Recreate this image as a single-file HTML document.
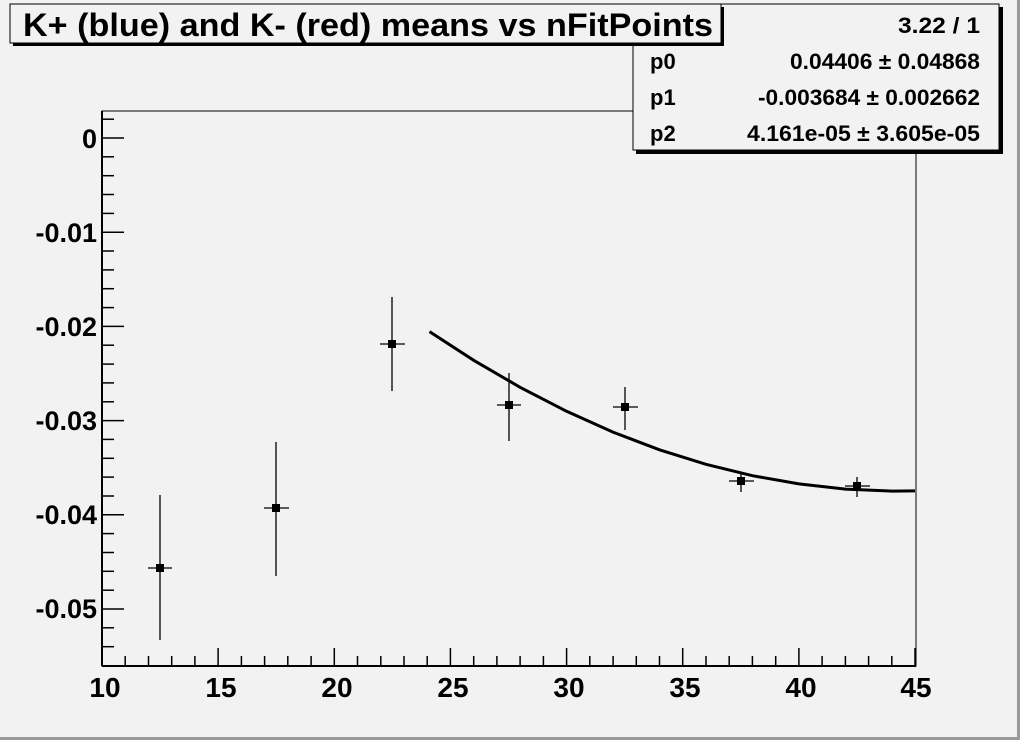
<!DOCTYPE html>
<html><head><style>
body{margin:0;background:#f2f2f2;}
svg{display:block;font-family:"Liberation Sans",sans-serif;font-weight:bold;}
</style></head><body>
<svg width="1020" height="740" viewBox="0 0 1020 740">
<rect width="1020" height="740" fill="#f2f2f2"/>
<rect x="0" y="737" width="1020" height="3" fill="#9a9a9a"/>
<rect x="1017" y="0" width="3" height="740" fill="#9a9a9a"/>
<rect x="102" y="111" width="814" height="555" fill="none" stroke="#000" stroke-width="1"/>
<g stroke="#000" stroke-width="2">
<line x1="102" y1="666" x2="916" y2="666"/>
<line x1="102" y1="111" x2="102" y2="666"/>
</g>
<g stroke="#000" stroke-width="1.5">
<line x1="102" y1="666" x2="102" y2="648"/>
<line x1="125.2" y1="666" x2="125.2" y2="656"/>
<line x1="148.5" y1="666" x2="148.5" y2="656"/>
<line x1="171.7" y1="666" x2="171.7" y2="656"/>
<line x1="194.9" y1="666" x2="194.9" y2="656"/>
<line x1="218.1" y1="666" x2="218.1" y2="648"/>
<line x1="241.4" y1="666" x2="241.4" y2="656"/>
<line x1="264.6" y1="666" x2="264.6" y2="656"/>
<line x1="287.8" y1="666" x2="287.8" y2="656"/>
<line x1="311.1" y1="666" x2="311.1" y2="656"/>
<line x1="334.3" y1="666" x2="334.3" y2="648"/>
<line x1="357.5" y1="666" x2="357.5" y2="656"/>
<line x1="380.8" y1="666" x2="380.8" y2="656"/>
<line x1="404" y1="666" x2="404" y2="656"/>
<line x1="427.2" y1="666" x2="427.2" y2="656"/>
<line x1="450.4" y1="666" x2="450.4" y2="648"/>
<line x1="473.7" y1="666" x2="473.7" y2="656"/>
<line x1="496.9" y1="666" x2="496.9" y2="656"/>
<line x1="520.1" y1="666" x2="520.1" y2="656"/>
<line x1="543.4" y1="666" x2="543.4" y2="656"/>
<line x1="566.6" y1="666" x2="566.6" y2="648"/>
<line x1="589.8" y1="666" x2="589.8" y2="656"/>
<line x1="613.1" y1="666" x2="613.1" y2="656"/>
<line x1="636.3" y1="666" x2="636.3" y2="656"/>
<line x1="659.5" y1="666" x2="659.5" y2="656"/>
<line x1="682.7" y1="666" x2="682.7" y2="648"/>
<line x1="706" y1="666" x2="706" y2="656"/>
<line x1="729.2" y1="666" x2="729.2" y2="656"/>
<line x1="752.4" y1="666" x2="752.4" y2="656"/>
<line x1="775.7" y1="666" x2="775.7" y2="656"/>
<line x1="798.9" y1="666" x2="798.9" y2="648"/>
<line x1="822.1" y1="666" x2="822.1" y2="656"/>
<line x1="845.4" y1="666" x2="845.4" y2="656"/>
<line x1="868.6" y1="666" x2="868.6" y2="656"/>
<line x1="891.8" y1="666" x2="891.8" y2="656"/>
<line x1="915" y1="666" x2="915" y2="648"/>
</g>
<g stroke="#000" stroke-width="1.5">
<line x1="102" y1="119.2" x2="114" y2="119.2"/>
<line x1="102" y1="138" x2="124" y2="138"/>
<line x1="102" y1="156.8" x2="114" y2="156.8"/>
<line x1="102" y1="175.7" x2="114" y2="175.7"/>
<line x1="102" y1="194.5" x2="114" y2="194.5"/>
<line x1="102" y1="213.4" x2="114" y2="213.4"/>
<line x1="102" y1="232.2" x2="124" y2="232.2"/>
<line x1="102" y1="251" x2="114" y2="251"/>
<line x1="102" y1="269.9" x2="114" y2="269.9"/>
<line x1="102" y1="288.7" x2="114" y2="288.7"/>
<line x1="102" y1="307.6" x2="114" y2="307.6"/>
<line x1="102" y1="326.4" x2="124" y2="326.4"/>
<line x1="102" y1="345.2" x2="114" y2="345.2"/>
<line x1="102" y1="364.1" x2="114" y2="364.1"/>
<line x1="102" y1="382.9" x2="114" y2="382.9"/>
<line x1="102" y1="401.8" x2="114" y2="401.8"/>
<line x1="102" y1="420.6" x2="124" y2="420.6"/>
<line x1="102" y1="439.4" x2="114" y2="439.4"/>
<line x1="102" y1="458.3" x2="114" y2="458.3"/>
<line x1="102" y1="477.1" x2="114" y2="477.1"/>
<line x1="102" y1="496" x2="114" y2="496"/>
<line x1="102" y1="514.8" x2="124" y2="514.8"/>
<line x1="102" y1="533.6" x2="114" y2="533.6"/>
<line x1="102" y1="552.5" x2="114" y2="552.5"/>
<line x1="102" y1="571.3" x2="114" y2="571.3"/>
<line x1="102" y1="590.2" x2="114" y2="590.2"/>
<line x1="102" y1="609" x2="124" y2="609"/>
<line x1="102" y1="627.8" x2="114" y2="627.8"/>
<line x1="102" y1="646.7" x2="114" y2="646.7"/>
</g>
<g font-size="27" text-anchor="end">
<text x="97" y="148">0</text>
<text x="97" y="242">-0.01</text>
<text x="97" y="336">-0.02</text>
<text x="97" y="430">-0.03</text>
<text x="97" y="524">-0.04</text>
<text x="97" y="618">-0.05</text>
</g>
<g font-size="28" text-anchor="middle">
<text x="105" y="697">10</text>
<text x="221" y="697">15</text>
<text x="337" y="697">20</text>
<text x="453" y="697">25</text>
<text x="569" y="697">30</text>
<text x="685" y="697">35</text>
<text x="801" y="697">40</text>
<text x="916" y="697">45</text>
</g>
<polyline fill="none" stroke="#000" stroke-width="3" points="429.5,331.6 473.7,360.3 520.1,387.3 566.6,411.3 613,432.1 659.5,449.8 706,464.3 752.4,475.7 798.9,483.9 845.4,489.1 891.8,491.1 915,490.9"/>
<g stroke="#000" stroke-width="1.3">
<line x1="160" y1="495" x2="160" y2="640"/><line x1="148" y1="568" x2="172" y2="568"/>
<line x1="276" y1="442" x2="276" y2="576"/><line x1="264" y1="508" x2="289" y2="508"/>
<line x1="392" y1="297" x2="392" y2="391"/><line x1="380" y1="344" x2="405" y2="344"/>
<line x1="509" y1="373" x2="509" y2="441"/><line x1="497" y1="405" x2="521" y2="405"/>
<line x1="625" y1="387" x2="625" y2="430"/><line x1="613" y1="407" x2="638" y2="407"/>
<line x1="741" y1="472" x2="741" y2="492"/><line x1="729" y1="481" x2="754" y2="481"/>
<line x1="857" y1="477" x2="857" y2="497"/><line x1="845" y1="486" x2="870" y2="486"/>
</g>
<g fill="#000">
<rect x="156" y="564" width="8" height="8"/>
<rect x="272" y="504" width="8" height="8"/>
<rect x="388" y="340" width="8" height="8"/>
<rect x="505" y="401" width="8" height="8"/>
<rect x="621" y="403" width="8" height="8"/>
<rect x="737" y="477" width="8" height="8"/>
<rect x="853" y="482" width="8" height="8"/>
</g>
<rect x="636" y="7" width="367" height="147" fill="#000"/>
<rect x="633" y="4" width="366" height="146" fill="#f2f2f2" stroke="#000" stroke-width="1"/>
<g font-size="22">
<text x="980" y="33" text-anchor="end" textLength="82" lengthAdjust="spacingAndGlyphs">3.22 / 1</text>
<text x="650" y="69">p0</text>
<text x="980" y="69" text-anchor="end" textLength="190" lengthAdjust="spacingAndGlyphs">0.04406 ± 0.04868</text>
<text x="650" y="105">p1</text>
<text x="980" y="105" text-anchor="end" textLength="222" lengthAdjust="spacingAndGlyphs">-0.003684 ± 0.002662</text>
<text x="650" y="141">p2</text>
<text x="980" y="141" text-anchor="end" textLength="233" lengthAdjust="spacingAndGlyphs">4.161e-05 ± 3.605e-05</text>
</g>
<rect x="13" y="7" width="711" height="39" fill="#000"/>
<rect x="10" y="4" width="711" height="39" fill="#f2f2f2" stroke="#000" stroke-width="1"/>
<text x="23" y="36" font-size="32" textLength="690" lengthAdjust="spacingAndGlyphs">K+ (blue) and K- (red) means vs nFitPoints</text>
</svg>
</body></html>
